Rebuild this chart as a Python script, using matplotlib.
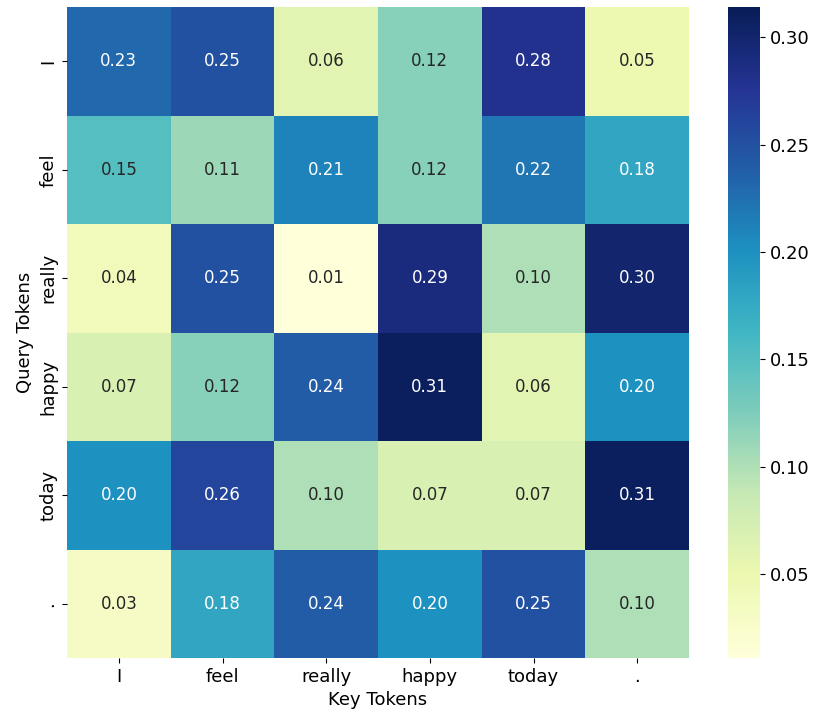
import matplotlib
matplotlib.use("Agg")
import matplotlib.pyplot as plt
import numpy as np
import seaborn as sns

tokens = ["I", "feel", "really", "happy", "today", "."]
row_I = [0.23, 0.25, 0.06, 0.12, 0.28, 0.05]
row_feel = [0.15, 0.11, 0.21, 0.12, 0.22, 0.18]
row_really = [0.04, 0.25, 0.01, 0.29, 0.10, 0.30]
row_happy = [0.07, 0.12, 0.24, 0.31, 0.06, 0.20]
row_today = [0.20, 0.26, 0.10, 0.07, 0.07, 0.31]
row_dot = [0.03, 0.18, 0.24, 0.20, 0.25, 0.10]

attention = np.array([row_I, row_feel, row_really, row_happy, row_today, row_dot])

fig = plt.figure(figsize=(8.14, 7.17), dpi=100)
ax = fig.add_axes([67 / 814, 1 - 658 / 717, (689 - 67) / 814, (658 - 7) / 717])
cax = fig.add_axes([728 / 814, 1 - 658 / 717, (760 - 728) / 814, (658 - 7) / 717])

sns.heatmap(attention, annot=True, fmt=".2f", cmap="YlGnBu",
            vmin=0.011, vmax=0.314,
            xticklabels=tokens, yticklabels=tokens,
            ax=ax, cbar_ax=cax, annot_kws={"fontsize": 12})

ax.set_xlabel("Key Tokens", fontsize=13)
ax.set_ylabel("Query Tokens", fontsize=13)
ax.tick_params(axis="both", labelsize=13)
plt.setp(ax.get_yticklabels(), rotation=90, va="center")
cax.tick_params(labelsize=13)

fig.savefig("out.png", dpi=100)
